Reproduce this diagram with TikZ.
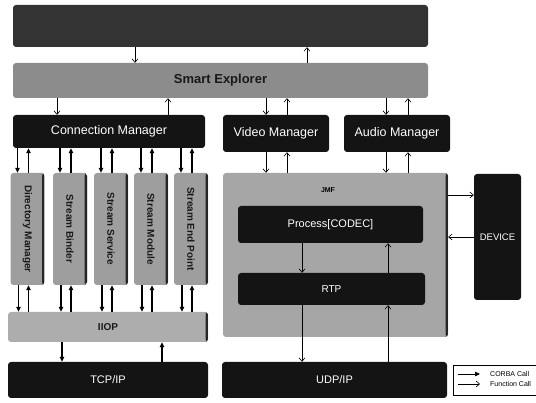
\documentclass[tikz,border=0pt]{standalone}
\usepackage{fontspec}
\setmainfont{Liberation Sans}
\usepackage{graphicx}
\usetikzlibrary{arrows.meta}

\begin{document}
\begin{tikzpicture}[
    x=1pt, y=-1pt,
    every node/.style={font=\fontsize{11}{13}\selectfont, inner sep=0pt},
    dark/.style={rectangle, rounded corners=3pt, fill=black!92, text=white},
    grey/.style={rectangle, rounded corners=3pt, fill=black!38, text=black!90,
        font=\fontsize{10}{12}\selectfont\bfseries},
    rim/.style={path picture={\fill[black!85]
        ([xshift=-2.5pt]path picture bounding box.north east)
        rectangle (path picture bounding box.south east);}},
    svc/.style={grey, rim, minimum width=34pt, minimum height=112pt},
    corba/.style={-{Triangle[length=5pt,width=4.5pt]}, line width=1.1pt},
    fcall/.style={-{Straight Barb[length=3.5pt,width=6pt]}, line width=0.6pt}
]
\useasboundingbox (0,0) rectangle (536,403);

%% ---- Application layer ----
\node[dark, fill=black!80, minimum width=415pt, minimum height=42pt] (top) at (220.5,26) {};
\node[grey, fill=black!45, minimum width=415pt, minimum height=35pt,
      font=\fontsize{13}{15}\selectfont\bfseries] (smart) at (220.5,80.5) {Smart Explorer};

%% ---- Managers ----
\node[dark, minimum width=192pt, minimum height=33pt, font=\fontsize{12.5}{14}\selectfont] (conn)  at (109,131.5) {Connection Manager};
\node[dark, minimum width=106pt, minimum height=37pt, font=\fontsize{12.5}{14}\selectfont] (video) at (276,133.5) {Video Manager};
\node[dark, minimum width=106pt, minimum height=37pt, font=\fontsize{12.5}{14}\selectfont] (audio) at (397,133.5) {Audio Manager};

%% ---- CORBA services ----
\node[svc] (dirm) at (27.5,229) {\rotatebox{-90}{Directory Manager}};
\node[svc] (binder) at (70,229)  {\rotatebox{-90}{Stream Binder}};
\node[svc] (service) at (111,229) {\rotatebox{-90}{Stream Service}};
\node[svc] (module) at (151,229) {\rotatebox{-90}{Stream Module}};
\node[svc] (endp) at (191,229)   {\rotatebox{-90}{Stream End Point}};

\node[grey, rim, fill=black!32, minimum width=200pt, minimum height=30pt] (iiop) at (108,327) {IIOP};
\node[dark, minimum width=200pt, minimum height=36pt] (tcp) at (108,380) {TCP/IP};

%% ---- JMF side ----
\node[grey, rim, fill=black!35, minimum width=225pt, minimum height=164pt] (jmf) at (335.5,255) {};
\node[font=\fontsize{7}{8}\selectfont\bfseries] (jmft) at (328,190) {JMF};
\node[dark, minimum width=185pt, minimum height=37pt] (proc) at (330.5,224.5) {Process[CODEC]};
\node[dark, minimum width=187pt, minimum height=32pt, font=\fontsize{10}{12}\selectfont] (rtp) at (331.5,289) {RTP};
\node[dark, minimum width=225pt, minimum height=36pt] (udp) at (334.5,380) {UDP/IP};
\node[dark, minimum width=47pt, minimum height=126pt, font=\fontsize{9.5}{11}\selectfont] (device) at (497.5,237) {DEVICE};

%% ---- Legend ----
\node[draw, line width=0.6pt, minimum width=92pt, minimum height=30pt] (legend) at (499,380) {};
\node[font=\fontsize{7}{8}\selectfont, anchor=west] (lcorba) at (490,374) {CORBA Call};
\node[font=\fontsize{7}{8}\selectfont, anchor=west] (lfunc)  at (490,384) {Function Call};
\draw[corba, line width=0.7pt] ([xshift=-32pt]lcorba.west) -- ([xshift=-10pt]lcorba.west);
\draw[fcall] ([xshift=-32pt]lfunc.west) -- ([xshift=-10pt]lfunc.west);

%% ---- Function calls ----
\draw[fcall] ([xshift=-85.5pt]top.south) -- ([xshift=-85.5pt]top.south |- smart.north);
\draw[fcall] ([xshift=86.5pt]top.south |- smart.north) -- ([xshift=86.5pt]top.south);

\draw[fcall] ([xshift=-52pt]conn.north |- smart.south) -- ([xshift=-52pt]conn.north);
\draw[fcall] ([xshift=59pt]conn.north) -- ([xshift=59pt]conn.north |- smart.south);
\draw[fcall] ([xshift=-10pt]video.north |- smart.south) -- ([xshift=-10pt]video.north);
\draw[fcall] ([xshift=11pt]video.north) -- ([xshift=11pt]video.north |- smart.south);
\draw[fcall] ([xshift=-11pt]audio.north |- smart.south) -- ([xshift=-11pt]audio.north);
\draw[fcall] ([xshift=11pt]audio.north) -- ([xshift=11pt]audio.north |- smart.south);

\draw[fcall] ([xshift=-10pt]video.south) -- ([xshift=-10pt]video.south |- jmf.north);
\draw[fcall] ([xshift=11pt]video.south |- jmf.north) -- ([xshift=11pt]video.south);
\draw[fcall] ([xshift=-11pt]audio.south) -- ([xshift=-11pt]audio.south |- jmf.north);
\draw[fcall] ([xshift=11pt]audio.south |- jmf.north) -- ([xshift=11pt]audio.south);

\draw[fcall] ([xshift=-28.5pt]proc.south) -- ([xshift=-28.5pt]proc.south |- rtp.north);
\draw[fcall] ([xshift=57.5pt]proc.south |- rtp.north) -- ([xshift=57.5pt]proc.south);
\draw[fcall] ([xshift=-29.5pt]rtp.south) -- ([xshift=-29.5pt]rtp.south |- udp.north);
\draw[fcall] ([xshift=56.5pt]rtp.south |- udp.north) -- ([xshift=56.5pt]rtp.south);

\draw[fcall] ([yshift=60pt]jmf.east) -- ([yshift=60pt]jmf.east -| device.west);
\draw[fcall] (device.west) -- (device.west -| jmf.east);

%% ---- CORBA calls ----
\draw[corba] ([xshift=-10pt]dirm.north |- conn.south) -- ([xshift=-10pt]dirm.north);
\draw[corba] ([xshift=1pt]dirm.north) -- ([xshift=1pt]dirm.north |- conn.south);
\draw[corba] ([xshift=-10pt]binder.north |- conn.south) -- ([xshift=-10pt]binder.north);
\draw[corba] ([xshift=1pt]binder.north) -- ([xshift=1pt]binder.north |- conn.south);
\draw[corba] ([xshift=-10pt]service.north |- conn.south) -- ([xshift=-10pt]service.north);
\draw[corba] ([xshift=1pt]service.north) -- ([xshift=1pt]service.north |- conn.south);
\draw[corba] ([xshift=-10pt]module.north |- conn.south) -- ([xshift=-10pt]module.north);
\draw[corba] ([xshift=1pt]module.north) -- ([xshift=1pt]module.north |- conn.south);
\draw[corba] ([xshift=-10pt]endp.north |- conn.south) -- ([xshift=-10pt]endp.north);
\draw[corba] ([xshift=1pt]endp.north) -- ([xshift=1pt]endp.north |- conn.south);

\draw[corba] ([xshift=-9pt]dirm.south) -- ([xshift=-9pt]dirm.south |- iiop.north);
\draw[corba] ([xshift=1pt]dirm.south |- iiop.north) -- ([xshift=1pt]dirm.south);
\draw[corba] ([xshift=-9pt]binder.south) -- ([xshift=-9pt]binder.south |- iiop.north);
\draw[corba] ([xshift=1pt]binder.south |- iiop.north) -- ([xshift=1pt]binder.south);
\draw[corba] ([xshift=-9pt]service.south) -- ([xshift=-9pt]service.south |- iiop.north);
\draw[corba] ([xshift=1pt]service.south |- iiop.north) -- ([xshift=1pt]service.south);
\draw[corba] ([xshift=-9pt]module.south) -- ([xshift=-9pt]module.south |- iiop.north);
\draw[corba] ([xshift=1pt]module.south |- iiop.north) -- ([xshift=1pt]module.south);
\draw[corba] ([xshift=-9pt]endp.south) -- ([xshift=-9pt]endp.south |- iiop.north);
\draw[corba] ([xshift=1pt]endp.south |- iiop.north) -- ([xshift=1pt]endp.south);

\draw[corba] ([xshift=-46pt]iiop.south) -- ([xshift=-46pt]iiop.south |- tcp.north);
\draw[corba] ([xshift=54pt]iiop.south |- tcp.north) -- ([xshift=54pt]iiop.south);

\end{tikzpicture}
\end{document}
